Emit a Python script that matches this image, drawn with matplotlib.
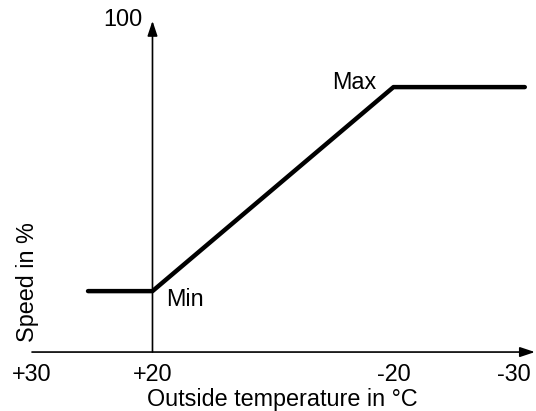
import matplotlib
matplotlib.use("Agg")
import matplotlib.pyplot as plt

plt.rcParams['font.family'] = ['Liberation Sans', 'DejaVu Sans']

# Schematic data (x in tick-position units: +30 -> 0, +20 -> 1, -20 -> 3, -30 -> 4)
curve_x = [0.465, 1.0, 3.0, 4.09]
curve_speed = [18.4, 18.4, 80.0, 80.0]
tick_pos = [0, 1, 3, 4]
tick_labels = ["+30", "+20", "-20", "-30"]
y_top_label = "100"

fig = plt.figure(figsize=(5.36, 4.11), dpi=100)
ax = fig.add_axes([0, 0, 1, 1])
ax.set_xlim(-0.2656, 4.183)
ax.set_ylim(-17.8, 106.3)
ax.axis('off')

fs = 16.8
# axes with arrows
ax.annotate("", xy=(4.174, 0), xytext=(0, 0),
            arrowprops=dict(arrowstyle="-|>,head_length=0.9,head_width=0.3",
                            color="black", lw=1.2, shrinkA=0, shrinkB=0))
ax.annotate("", xy=(1, 100), xytext=(1, 0),
            arrowprops=dict(arrowstyle="-|>,head_length=0.9,head_width=0.3",
                            color="black", lw=1.2, shrinkA=0, shrinkB=0))

# curve
ax.plot(curve_x, curve_speed, color="black", lw=3.2, solid_capstyle="round",
        solid_joinstyle="round")

# tick labels
for p, lab in zip(tick_pos, tick_labels):
    ax.text(p, -6.65, lab, ha="center", va="center", fontsize=fs)

ax.text(0.921, 100.3, y_top_label, ha="right", va="center", fontsize=fs)
ax.text(2.075, -14.2, "Outside temperature in °C", ha="center", va="center", fontsize=fs)
ax.text(-0.041, 21.1, "Speed in %", ha="center", va="center", rotation=90, fontsize=fs)
ax.text(1.112, 16.0, "Min", ha="left", va="center", fontsize=fs)
ax.text(2.855, 81.3, "Max", ha="right", va="center", fontsize=fs)

fig.savefig("out.png", dpi=100)
